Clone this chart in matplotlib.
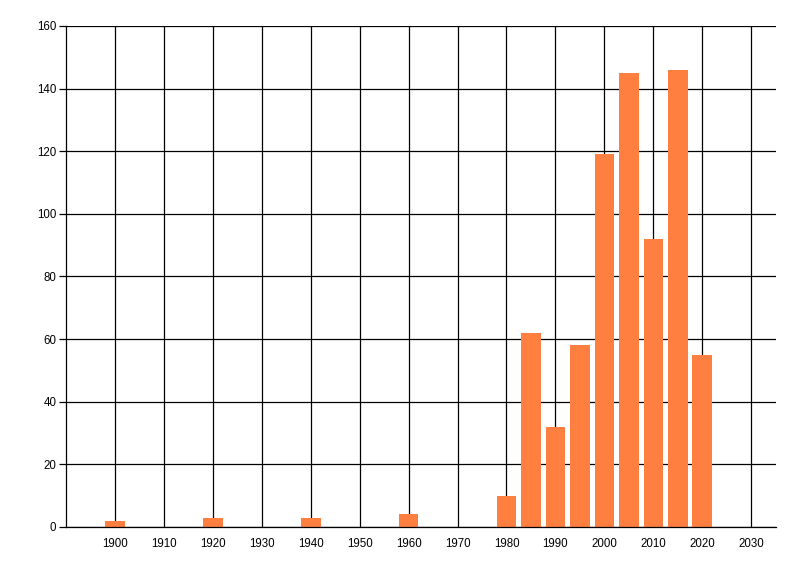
import matplotlib
matplotlib.use("Agg")
import matplotlib.pyplot as plt

# bar positions (year) and counts
years = [1900, 1920, 1940, 1960, 1980, 1985, 1990, 1995, 2000, 2005, 2010, 2015, 2020]
counts = [2, 3, 3, 4, 10, 62, 32, 58, 119, 145, 92, 146, 55]
xticks = list(range(1900, 2031, 10))
yticks = list(range(0, 161, 20))

plt.rcParams["font.family"] = ["Liberation Sans", "DejaVu Sans"]

fig = plt.figure(figsize=(8, 5.76), dpi=100)
ax = fig.add_axes([0.0825, 0.0851, 0.8871, 0.8698])

ax.bar(years, counts, width=4, color="#FF7F41", zorder=3, linewidth=0)

ax.set_xlim(1890, 2035)
ax.set_ylim(0, 160)
ax.set_xticks(xticks)
ax.set_yticks(yticks)
ax.grid(True, color="black", linewidth=0.9, zorder=1)
ax.set_axisbelow(True)

for side in ("top", "right"):
    ax.spines[side].set_visible(False)
ax.spines["left"].set_linewidth(0.9)
ax.spines["bottom"].set_linewidth(0.9)
ax.spines["bottom"].set_zorder(4)

ax.tick_params(axis="x", length=0, pad=8, labelsize=8.3)
ax.tick_params(axis="y", length=5, width=0.9, pad=2, labelsize=8.3)

fig.savefig("out.png", dpi=100)
